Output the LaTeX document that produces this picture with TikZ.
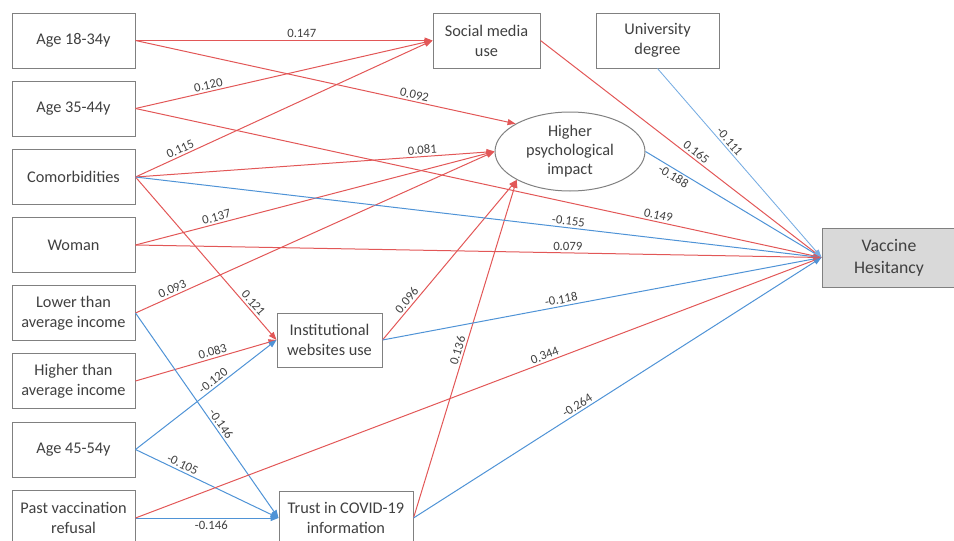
\documentclass[tikz,border=0pt]{standalone}
\usepackage{fontspec}
\setmainfont{Carlito}
\usetikzlibrary{shapes.geometric,arrows.meta}
\definecolor{effred}{RGB}{226,87,87}
\definecolor{effblue}{RGB}{79,147,214}
\definecolor{effpale}{RGB}{118,172,226}
\definecolor{boxgray}{RGB}{128,128,128}
\definecolor{txtgray}{RGB}{64,64,64}
\definecolor{outfill}{RGB}{217,217,217}
\tikzset{
    var/.style={draw=boxgray,line width=1pt,text=txtgray,align=center,inner sep=0pt,
        minimum width=123pt,minimum height=55pt,font=\fontsize{16.3}{20}\selectfont},
    lat/.style={var,ellipse,minimum width=150pt,minimum height=79pt,font=\fontsize{16.3}{19}\selectfont},
    outc/.style={var,fill=outfill,minimum width=134pt,minimum height=59pt,font=\fontsize{17.7}{22}\selectfont},
    poseff/.style={effred,line width=1pt,-{Triangle[length=8pt,width=6pt]}},
    negeff/.style={effblue,line width=1pt,-{Triangle[length=8pt,width=6pt]}},
    coef/.style={sloped,text=txtgray,inner sep=2pt,font=\fontsize{12.7}{15}\selectfont}
}
\begin{document}
\begin{tikzpicture}[x=1pt,y=-1pt]
    \useasboundingbox (0,0) rectangle (954,541);
    \clip (0,0) rectangle (954,541);
    \node[var] (age18) at (73.5,40.5) {Age 18-34y};
    \node[var] (age35) at (73.5,108.5) {Age 35-44y};
    \node[var] (comorb) at (73.5,177) {Comorbidities};
    \node[var] (woman) at (73.5,245) {Woman};
    \node[var] (lowinc) at (73.5,313) {Lower than\\average income};
    \node[var] (highinc) at (73.5,381) {Higher than\\average income};
    \node[var] (age45) at (73.5,449.5) {Age 45-54y};
    \node[var] (refusal) at (73.5,518) {Past vaccination\\refusal};
    \node[var,minimum width=107pt] (social) at (486.5,40.5) {Social media\\use};
    \node[var] (degree) at (657.5,40.5) {University\\degree};
    \node[lat] (impact) at (570,151.5) {Higher\\psychological\\impact};
    \node[outc] (vh) at (889,257.5) {Vaccine\\Hesitancy};
    \node[var,minimum width=105pt,minimum height=54pt] (websites) at (329.5,340) {Institutional\\websites use};
    \node[var,minimum width=134pt,minimum height=54pt] (trust) at (346,518) {Trust in COVID-19\\information};
    \draw[poseff] (age18.east) -- (social.west) node[coef,pos=0.56,above] {0.147};
    \draw[poseff] (age35.east) -- (social.west) node[coef,pos=0.25,above] {0.120};
    \draw[poseff] (comorb.east) -- (social.west) node[coef,pos=0.16,above] {0.115};
    \draw[poseff] (age18.east) -- (impact.153) node[coef,pos=0.73,above] {0.092};
    \draw[poseff] (comorb.east) -- (impact.west) node[coef,pos=0.80,above] {0.081};
    \draw[poseff] (woman.east) -- (impact.west) node[coef,pos=0.23,above] {0.137};
    \draw[poseff] (lowinc.east) -- (impact.west) node[coef,pos=0.11,above] {0.093};
    \draw[poseff] (comorb.east) -- (websites.west) node[coef,pos=0.80,above] {0.121};
    \draw[poseff] (highinc.east) -- (websites.west) node[coef,pos=0.56,above] {0.083};
    \draw[negeff] (age45.east) -- (websites.west) node[coef,pos=0.58,above] {-0.120};
    \draw[negeff] (lowinc.east) -- (trust.west) node[coef,pos=0.56,above] {-0.146};
    \draw[negeff] (age45.east) -- (trust.west) node[coef,pos=0.31,above] {-0.105};
    \draw[negeff] (refusal.east) -- (trust.west) node[coef,pos=0.53,below] {-0.146};
    \draw[poseff] (websites.east) -- (impact.208) node[coef,pos=0.22,above] {0.096};
    \draw[poseff] (trust.east) -- (impact.208) node[coef,pos=0.49,above] {0.136};
    \draw[negeff] (websites.east) -- (vh.west) node[coef,pos=0.41,above] {-0.118};
    \draw[poseff] (refusal.east) -- (vh.west) node[coef,pos=0.60,above] {0.344};
    \draw[negeff] (trust.east) -- (vh.west) node[coef,pos=0.41,above] {-0.264};
    \draw[poseff] (woman.east) -- (vh.west) node[coef,pos=0.63,above] {0.079};
    \draw[negeff] (comorb.east) -- (vh.west) node[coef,pos=0.63,above] {-0.155};
    \draw[poseff] (age35.east) -- (vh.west) node[coef,pos=0.76,above] {0.149};
    \draw[negeff] (impact.east) -- (vh.west) node[coef,pos=0.18,below] {-0.188};
    \draw[poseff] (social.east) -- (vh.west) node[coef,pos=0.54,above] {0.165};
    \draw[negeff,effpale,line width=0.85pt] (degree.south) -- (vh.west) node[coef,pos=0.41,above] {-0.111};
\end{tikzpicture}
\end{document}
